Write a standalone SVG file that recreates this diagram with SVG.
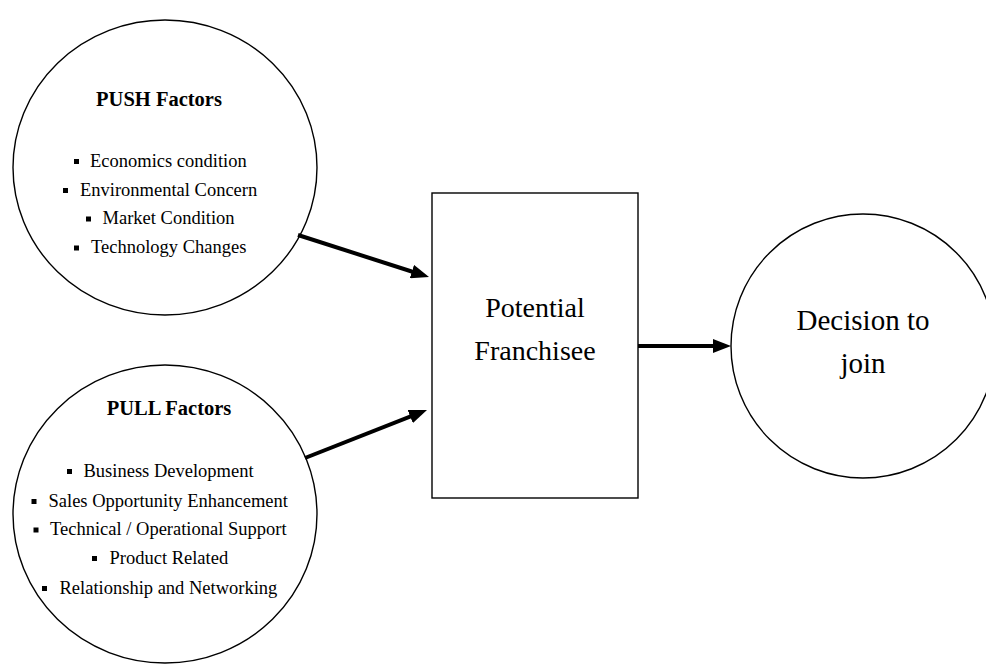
<svg xmlns="http://www.w3.org/2000/svg" width="986" height="666" viewBox="0 0 986 666">
<style>
.shape{fill:#fff;stroke:#000;stroke-width:1.4}
.t{font-family:"Liberation Serif","Times New Roman",serif;fill:#000}
.item{font-size:18.5px}
.head{font-size:20.5px;font-weight:bold;text-anchor:middle}
.big{font-size:28px;text-anchor:middle}
.bul{fill:#000}
.conn{stroke:#000;stroke-width:4;fill:none;marker-end:url(#ah)}
</style>
<defs>
<marker id="ah" viewBox="0 0 18 14" refX="8" refY="7" markerWidth="18" markerHeight="14" markerUnits="userSpaceOnUse" orient="auto">
<path d="M0,0 L18,7 L0,14 z" fill="#000"/>
</marker>
</defs>
<rect width="986" height="666" fill="#fff"/>
<g id="push">
<ellipse class="shape" cx="165" cy="167.5" rx="152" ry="147.5"/>
<text class="t head" x="159" y="106">PUSH Factors</text>
<rect class="bul" x="74" y="159" width="5" height="5"/>
<text class="t item" x="90" y="166.5">Economics condition</text>
<rect class="bul" x="63" y="188" width="5" height="5"/>
<text class="t item" x="80" y="195.5">Environmental Concern</text>
<rect class="bul" x="86" y="216.5" width="5" height="5"/>
<text class="t item" x="102.5" y="224">Market Condition</text>
<rect class="bul" x="74" y="245.5" width="5" height="5"/>
<text class="t item" x="91" y="253">Technology Changes</text>
</g>
<g id="pull">
<ellipse class="shape" cx="165" cy="514" rx="152" ry="149"/>
<text class="t head" x="169" y="415">PULL Factors</text>
<rect class="bul" x="67" y="469" width="5" height="5"/>
<text class="t item" x="83.5" y="476.5">Business Development</text>
<rect class="bul" x="31.5" y="499" width="5" height="5"/>
<text class="t item" x="48.5" y="506.5">Sales Opportunity Enhancement</text>
<rect class="bul" x="33.5" y="527.5" width="5" height="5"/>
<text class="t item" x="50" y="535">Technical / Operational Support</text>
<rect class="bul" x="92" y="556" width="5" height="5"/>
<text class="t item" x="109.5" y="563.5">Product Related</text>
<rect class="bul" x="42" y="586" width="5" height="5"/>
<text class="t item" x="59.5" y="593.5">Relationship and Networking</text>
</g>
<g id="franchisee">
<rect class="shape" x="432" y="193" width="206" height="305"/>
<text class="t big" x="535" y="317">Potential</text>
<text class="t big" x="535" y="360">Franchisee</text>
</g>
<g id="decision">
<circle class="shape" cx="863" cy="346" r="132"/>
<text class="t big" x="863" y="330" style="font-size:29px">Decision to</text>
<text class="t big" x="863" y="373" style="font-size:29px">join</text>
</g>
<g id="connectors">
<path class="conn" d="M298,235 L419.5,274"/>
<path class="conn" d="M305,458 L417.7,413.7"/>
<path class="conn" d="M638,346 L721,346"/>
</g>
</svg>
